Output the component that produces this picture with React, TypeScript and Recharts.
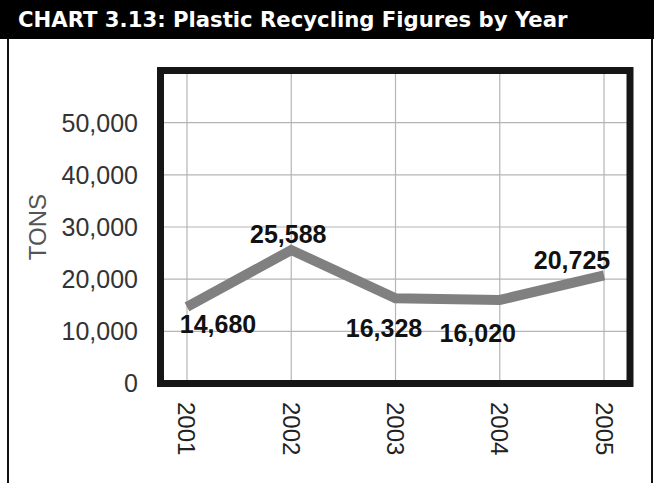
import { LineChart, Line, XAxis, YAxis, CartesianGrid, ReferenceArea } from 'recharts';

const YEARS = [2001, 2002, 2003, 2004, 2005];
const TONS = [14680, 25588, 16328, 16020, 20725];
const Y_TICKS = [0, 10000, 20000, 30000, 40000, 50000];

// where each value label sits relative to its point: [dx, dy to baseline]
const LABEL_OFFSETS: [number, number][] = [
  [31, 26],
  [-3, -7],
  [-11.5, 39],
  [-22, 42],
  [-32, -6],
];

const data = YEARS.map((year, i) => ({ year, tons: TONS[i] }));

const ARIAL = '"Liberation Sans", Arial, Helvetica, sans-serif';
const fmt = (v: number) => v.toLocaleString('en-US');

function YearTick({ x, y, payload }: any) {
  return (
    <g transform={`translate(${x},${y})`}>
      <text
        x={18.5}
        y={0}
        dy="0.355em"
        transform="rotate(90)"
        textAnchor="start"
        fill="#222"
        fontSize={24}
        fontFamily={ARIAL}
      >
        {payload.value}
      </text>
    </g>
  );
}

function TonsLabel({ viewBox }: any) {
  const cx = (viewBox?.x ?? 0) + 37;
  const cy = (viewBox?.y ?? 0) + (viewBox?.height ?? 0) / 2;
  return (
    <text
      x={cx}
      y={cy}
      dy="0.355em"
      transform={`rotate(-90, ${cx}, ${cy})`}
      textAnchor="middle"
      fill="#555"
      fontSize={24}
      fontFamily={ARIAL}
    >
      TONS
    </text>
  );
}

function ValueLabel({ cx, cy, index, payload }: any) {
  const [dx, dy] = LABEL_OFFSETS[index] ?? [0, -10];
  return (
    <text
      key={`lbl-${index}`}
      x={cx + dx}
      y={cy + dy}
      textAnchor="middle"
      fill="#111"
      fontSize={25}
      fontWeight="bold"
      fontFamily={ARIAL}
    >
      {fmt(payload.tons)}
    </text>
  );
}

export default function App() {
  return (
    <div style={{ position: 'absolute', left: 0, top: 0, width: 654, height: 483, background: '#fff' }}>
      {/* title bar */}
      <div
        style={{
          position: 'absolute',
          left: 0,
          top: 0,
          width: 654,
          height: 39,
          background: '#000',
          color: '#fff',
          fontFamily: '"DejaVu Sans", "Open Sans", sans-serif',
          fontWeight: 700,
          fontSize: 21.2,
          lineHeight: '39px',
          paddingLeft: 18,
          boxSizing: 'border-box',
          whiteSpace: 'nowrap',
        }}
      >
        CHART 3.13: Plastic Recycling Figures by Year
      </div>
      {/* side rules */}
      <div
        style={{
          position: 'absolute',
          left: 7,
          top: 39,
          width: 642,
          height: 444,
          borderLeft: '2px solid #111',
          borderRight: '2px solid #111',
        }}
      />
      <div style={{ position: 'absolute', left: 0, top: 39 }}>
        <LineChart width={654} height={444} data={data} margin={{ top: 31.5, right: 24, left: 0, bottom: 0 }}>
          <CartesianGrid stroke="#b5b5b5" strokeWidth={1.2} />
          <XAxis
            dataKey="year"
            type="number"
            domain={[2000.746, 2005.249]}
            ticks={YEARS}
            axisLine={false}
            tickLine={false}
            tickSize={0}
            tickMargin={0}
            height={99.5}
            tick={<YearTick />}
            interval={0}
          />
          <YAxis
            domain={[0, 60000]}
            ticks={Y_TICKS}
            axisLine={false}
            tickLine={false}
            tickSize={0}
            tickMargin={22.5}
            width={160.5}
            tickFormatter={fmt}
            tick={{ fill: '#333', fontSize: 25, fontFamily: ARIAL }}
            label={<TonsLabel />}
          />
          <ReferenceArea y1={0} y2={60000} fill="none" stroke="#161616" strokeWidth={7} ifOverflow="visible" />
          <Line
            dataKey="tons"
            stroke="#808080"
            strokeWidth={10}
            strokeLinejoin="miter"
            strokeLinecap="butt"
            dot={(p: any) => <ValueLabel key={`v-${p.index}`} {...p} />}
            activeDot={false}
            isAnimationActive={false}
          />
        </LineChart>
      </div>
    </div>
  );
}
